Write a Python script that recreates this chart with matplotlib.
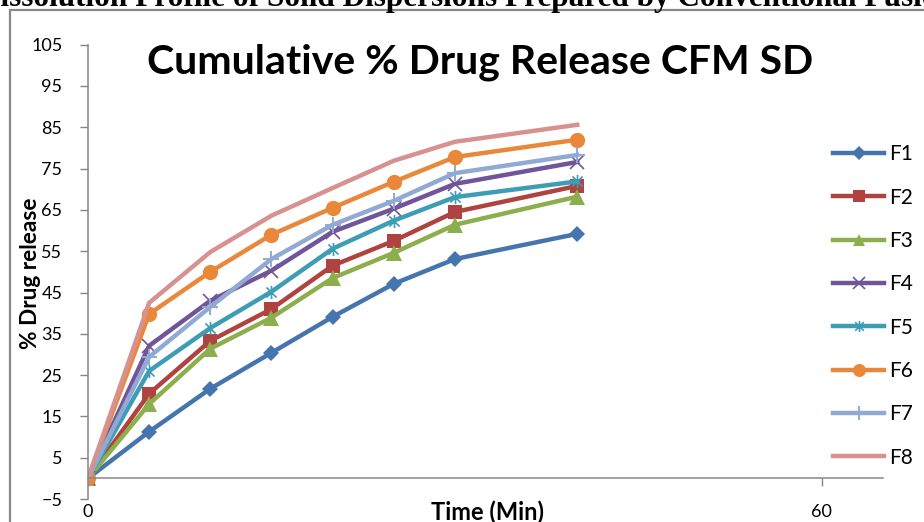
import matplotlib
matplotlib.use("Agg")
import matplotlib.pyplot as plt
from matplotlib.path import Path
from matplotlib.patches import Rectangle

time_min = [0, 5, 10, 15, 20, 25, 30, 40]
F1 = [0, 11.3, 21.7, 30.4, 39.1, 47.1, 53.1, 59.2]
F2 = [0, 20.5, 33.3, 41.0, 51.5, 57.5, 64.5, 70.8]
F3 = [0, 18.0, 31.4, 38.9, 48.5, 54.6, 61.4, 68.2]
F4 = [0, 32.1, 43.0, 50.3, 59.7, 65.3, 71.3, 76.6]
F5 = [0, 26.0, 36.4, 45.2, 55.6, 62.4, 68.1, 71.9]
F6 = [0, 39.8, 50.0, 59.0, 65.5, 71.8, 77.8, 82.0]
F7 = [0, 29.4, 41.5, 53.1, 61.4, 67.2, 73.9, 78.3]
F8 = [0, 42.5, 54.8, 63.6, 70.3, 76.9, 81.5, 85.6]
series_names = ["F1", "F2", "F3", "F4", "F5", "F6", "F7", "F8"]
series_values = [F1, F2, F3, F4, F5, F6, F7, F8]
y_ticks = list(range(-5, 106, 10))
x_ticks = [0, 60]

colors = ["#4675ad", "#b0433f", "#8dae4c", "#70559a", "#3e9db4", "#e9873a", "#91aad4", "#d79290"]

asterisk = Path([(-1, -1), (1, 1), (-1, 1), (1, -1), (0, -1.3), (0, 1.3)],
                [Path.MOVETO, Path.LINETO, Path.MOVETO, Path.LINETO, Path.MOVETO, Path.LINETO])
styles = [
    dict(marker="D", ms=8.5, mew=0),
    dict(marker="s", ms=10, mew=0),
    dict(marker="^", ms=11, mew=0),
    dict(marker="x", ms=9.5, mew=1.2),
    dict(marker=asterisk, ms=9.5, mew=1.2, mfc="none"),
    dict(marker="o", ms=11, mew=0),
    dict(marker="+", ms=11.5, mew=1.4),
    dict(marker="None"),
]

W, H = 924, 522
fig = plt.figure(figsize=(W / 100, H / 100), dpi=100)
fig.patch.set_facecolor("white")

left, right = 88 / W, 883 / W
bottom, top = 1 - 499 / H, 1 - 44.7 / H
ax = fig.add_axes([left, bottom, right - left, top - bottom])
ax.set_facecolor("none")

for name, vals, col, st in zip(series_names, series_values, colors, styles):
    ax.plot(time_min, vals, color=col, lw=3.2, label=name, mfc=st.pop("mfc", col),
            mec=col, solid_joinstyle="round", **st)

ax.set_xlim(0, 65)
ax.set_ylim(-5, 105)
ax.set_yticks(y_ticks)
ax.set_xticks(x_ticks)
for s in ["top", "right"]:
    ax.spines[s].set_visible(False)
ax.spines["bottom"].set_position(("data", 0))
for s in ["left", "bottom"]:
    ax.spines[s].set_color("#868686")
    ax.spines[s].set_linewidth(1.1)
ax.tick_params(axis="y", direction="out", length=5.5, width=1, color="#868686",
               pad=13, labelsize=13)
ax.tick_params(axis="x", direction="out", length=5.5, width=1, color="#868686",
               pad=13, labelsize=13)
for lab in ax.get_xticklabels() + ax.get_yticklabels():
    lab.set_fontfamily("Lato")

fig.text(487 / W, 1 - 512 / H, "Time (Min)", ha="center", va="center",
         fontsize=17, fontweight="bold", family="Lato")
fig.text(31 / W, 1 - 273 / H, "% Drug release", ha="center", va="center",
         rotation=90, fontsize=16.3, fontweight="bold", family="Lato")
fig.text(480 / W, 1 - 62 / H, "Cumulative % Drug Release CFM SD", ha="center",
         va="center", fontsize=29.5, fontweight="bold", family="Lato")

fig.text(-22 / W, 1 - 6 / H,
         "Dissolution Profile of Solid Dispersions Prepared by Conventional Fusion Method",
         ha="left", va="baseline", fontsize=22.5, fontweight="bold",
         family="Liberation Serif")

leg = ax.legend(loc="center left", bbox_to_anchor=(833 / W, 1 - 306 / H),
                bbox_transform=fig.transFigure, frameon=False, borderpad=0,
                borderaxespad=0, handlelength=2.45, handletextpad=0.25,
                labelspacing=1.12, prop={"family": "Lato", "size": 15},
                markerscale=0.85)

fig.patches.append(Rectangle((9.5 / W, -0.1), 1.2, 1.1 - 10 / H + 0.0,
                             transform=fig.transFigure, fill=False,
                             edgecolor="#898989", lw=1.6))

fig.savefig("out.png", dpi=100)
